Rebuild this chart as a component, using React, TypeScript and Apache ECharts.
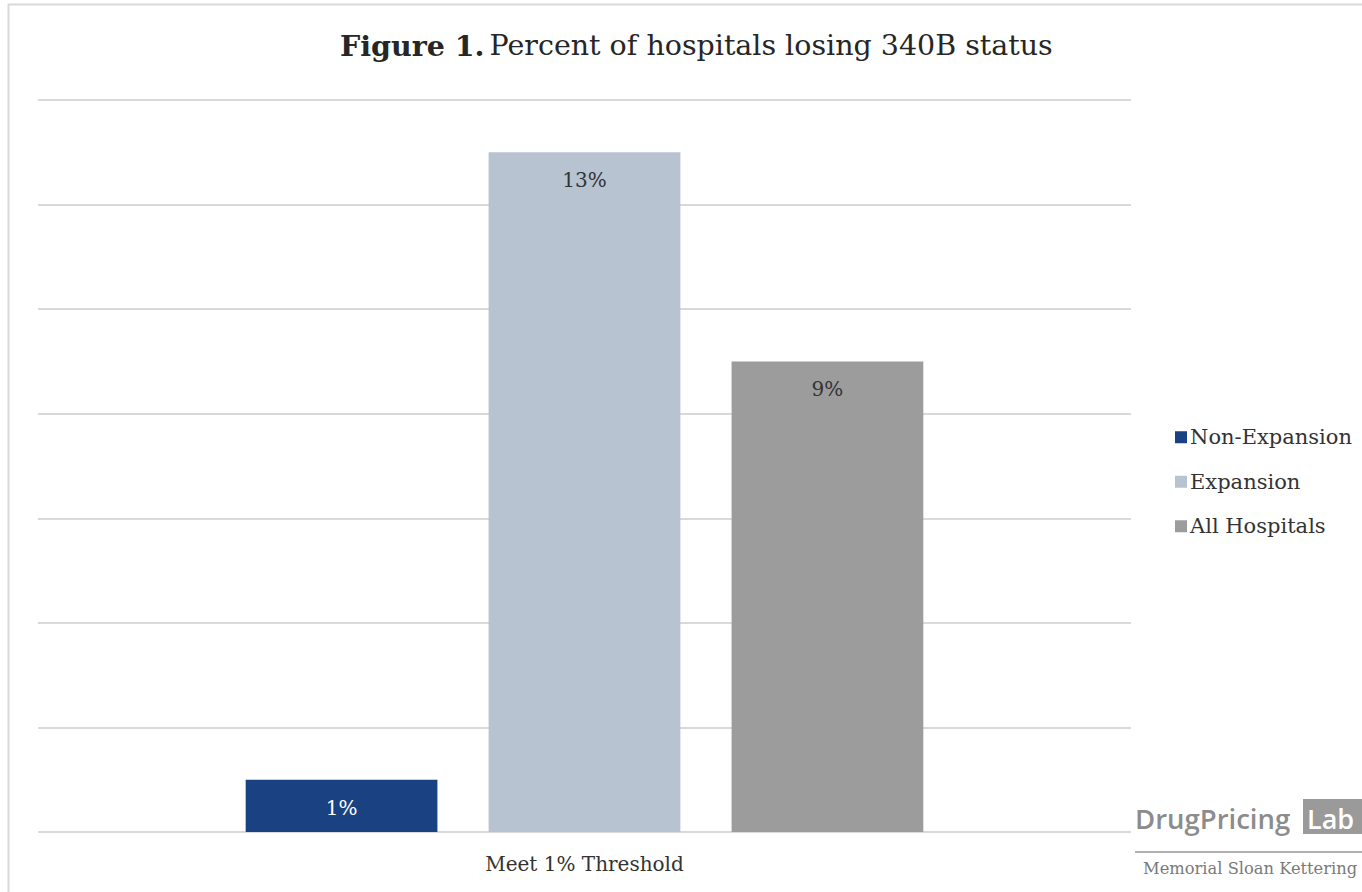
import React, { useEffect, useRef } from "react";
import * as echarts from "echarts";

const categories = ["Meet 1% Threshold"];
const seriesNames = ["Non-Expansion", "Expansion", "All Hospitals"];
const nonExpansion = [1];
const expansion = [13];
const allHospitals = [9];
const colors = ["#1a4282", "#b7c3d1", "#9c9c9c"];
const labelColors = ["#ffffff", "#333333", "#333333"];

const SERIF = "'DejaVu Serif', serif";

export default function App() {
  const ref = useRef<HTMLDivElement>(null);
  useEffect(() => {
    const chart = echarts.init(ref.current!, undefined, { renderer: "svg" });
    const data = [nonExpansion, expansion, allHospitals];
    chart.setOption({
      animation: false,
      backgroundColor: "#ffffff",
      title: {
        left: 335,
        top: 26,
        text: "{b|Figure 1.} {n|Percent of hospitals losing 340B status}",
        textStyle: {
          rich: {
            b: { fontFamily: SERIF, fontWeight: "bold", fontSize: 28.5, color: "#262626" },
            n: { fontFamily: SERIF, fontWeight: "normal", fontSize: 28.5, color: "#262626" },
          },
        },
      },
      legend: {
        orient: "vertical",
        left: 1170,
        top: 421,
        itemWidth: 12,
        itemHeight: 12,
        itemGap: 22,
        icon: "rect",
        data: seriesNames,
        textStyle: { fontFamily: SERIF, fontSize: 21, color: "#333333", lineHeight: 22.5, padding: [0, 0, 0, -2] },
      },
      grid: { left: 38, right: 231, top: 100, bottom: 60 },
      xAxis: {
        type: "category",
        data: categories,
        axisLine: { show: false },
        axisTick: { show: false },
        axisLabel: { fontFamily: SERIF, fontSize: 20, color: "#333333", margin: 22 },
      },
      yAxis: {
        type: "value",
        min: 0,
        max: 14,
        interval: 2,
        axisLabel: { show: false },
        axisLine: { show: false },
        axisTick: { show: false },
        splitLine: { lineStyle: { color: "#d9d9d9", width: 2 } },
      },
      series: seriesNames.map((name, i) => ({
        name,
        type: "bar",
        data: data[i],
        barGap: "26.7%",
        barCategoryGap: "38%",
        itemStyle: { color: colors[i] },
        label: {
          show: true,
          position: "insideTop",
          distance: 18,
          formatter: "{c}%",
          fontFamily: SERIF,
          fontSize: 20,
          color: labelColors[i],
        },
      })),
      graphic: [
        {
          type: "rect",
          shape: { x: 8.5, y: 4.5, width: 1400, height: 900 },
          style: { fill: "none", stroke: "#d9d9d9", lineWidth: 2 },
          silent: true,
        },
        {
          type: "text",
          x: 1135,
          y: 818,
          style: {
            text: "DrugPricing",
            font: "600 27.5px 'Open Sans', sans-serif",
            fill: "#8c8c8c",
            textVerticalAlign: "middle",
          },
        },
        {
          type: "rect",
          shape: { x: 1303, y: 799, width: 60, height: 35 },
          style: { fill: "#9a9a9a" },
        },
        {
          type: "text",
          x: 1307,
          y: 818,
          style: {
            text: "Lab",
            font: "600 27px 'Open Sans', sans-serif",
            fill: "#ffffff",
            textVerticalAlign: "middle",
          },
        },
        {
          type: "line",
          shape: { x1: 1135, y1: 852, x2: 1362, y2: 852 },
          style: { stroke: "#b0b0b0", lineWidth: 2 },
        },
        {
          type: "text",
          x: 1143,
          y: 868,
          style: {
            text: "Memorial Sloan Kettering",
            font: "16.3px 'DejaVu Serif', serif",
            fill: "#7a7a7a",
            textVerticalAlign: "middle",
          },
        },
      ],
    });
    return () => chart.dispose();
  }, []);
  return (
    <div
      ref={ref}
      style={{ position: "fixed", left: 0, top: 0, width: 1362, height: 892 }}
    />
  );
}
